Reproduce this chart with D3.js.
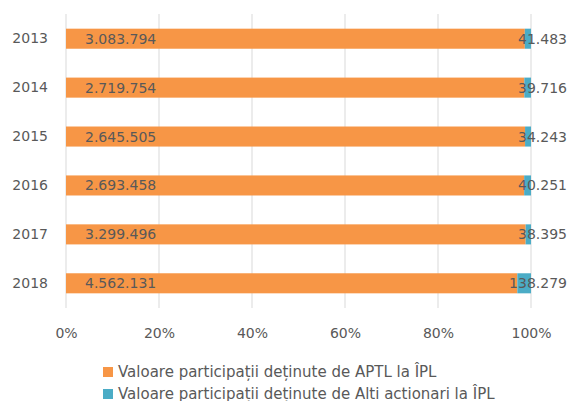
<!DOCTYPE html>
<html>
<head>
<meta charset="utf-8">
<script src="https://cdn.jsdelivr.net/npm/d3@7"></script>
<style>
  body { margin: 0; background: #fff; }
  text { font-family: "DejaVu Sans", sans-serif; fill: #595959; }
</style>
</head>
<body>
<div id="chart"></div>
<script>
var years = ["2013", "2014", "2015", "2016", "2017", "2018"];
var aptl = [3083794, 2719754, 2645505, 2693458, 3299496, 4562131];
var altii = [41483, 39716, 34243, 40251, 38395, 138279];
var xTicks = [0, 0.2, 0.4, 0.6, 0.8, 1];
var seriesNames = ["Valoare participații deținute de APTL la ÎPL",
                   "Valoare participații deținute de Alti actionari la ÎPL"];
var colors = ["#F79646", "#4BACC6"];

var w = 571, h = 401;
var plotLeft = 66, plotRight = 531, plotTop = 14, plotBottom = 308;

var fmt = function (v) {
    return d3.format(",")(v).replace(/,/g, ".");
};

var svg = d3.select("#chart").append("svg")
    .attr("width", w)
    .attr("height", h);

var x = d3.scaleLinear().domain([0, 1]).range([plotLeft, plotRight]);
var y = d3.scaleBand().domain(years).range([plotTop, plotBottom]).paddingInner(0.59).paddingOuter(0.3);

// gridlines
svg.selectAll("line.grid")
    .data(xTicks)
    .enter()
    .append("line")
    .attr("class", "grid")
    .attr("x1", function (d) { return x(d); })
    .attr("x2", function (d) { return x(d); })
    .attr("y1", plotTop)
    .attr("y2", plotBottom)
    .attr("stroke", "#d9d9d9")
    .attr("stroke-width", 1);

// x axis labels
var xAxis = d3.axisBottom(x).tickValues(xTicks).tickFormat(d3.format(".0%")).tickSize(0).tickPadding(0);
var gx = svg.append("g").attr("transform", "translate(0," + 328 + ")").call(xAxis);
gx.select(".domain").remove();
gx.selectAll("text").attr("font-size", 14).attr("dy", "0.71em");

// y axis labels
var yAxis = d3.axisLeft(y).tickSize(0).tickPadding(18);
var gy = svg.append("g").attr("transform", "translate(" + plotLeft + ",0)").call(yAxis);
gy.select(".domain").remove();
gy.selectAll("text").attr("font-size", 14);

var rows = years.map(function (yr, i) {
    var total = aptl[i] + altii[i];
    return { year: yr, a: aptl[i], b: altii[i], pa: aptl[i] / total };
});

// APTL bars
svg.selectAll("rect.a")
    .data(rows)
    .enter()
    .append("rect")
    .attr("class", "a")
    .attr("x", x(0))
    .attr("y", function (d) { return y(d.year); })
    .attr("width", function (d) { return x(d.pa) - x(0); })
    .attr("height", y.bandwidth())
    .attr("fill", colors[0]);

// others bars
svg.selectAll("rect.b")
    .data(rows)
    .enter()
    .append("rect")
    .attr("class", "b")
    .attr("x", function (d) { return x(d.pa); })
    .attr("y", function (d) { return y(d.year); })
    .attr("width", function (d) { return x(1) - x(d.pa); })
    .attr("height", y.bandwidth())
    .attr("fill", colors[1]);

// value labels
svg.selectAll("text.la")
    .data(rows)
    .enter()
    .append("text")
    .attr("class", "la")
    .attr("x", x(0) + 19)
    .attr("y", function (d) { return y(d.year) + y.bandwidth() / 2; })
    .attr("dy", "0.36em")
    .attr("font-size", 14)
    .text(function (d) { return fmt(d.a); });

svg.selectAll("text.lb")
    .data(rows)
    .enter()
    .append("text")
    .attr("class", "lb")
    .attr("x", x(1) + 36)
    .attr("y", function (d) { return y(d.year) + y.bandwidth() / 2; })
    .attr("dy", "0.36em")
    .attr("text-anchor", "end")
    .attr("font-size", 14)
    .text(function (d) { return fmt(d.b); });

// legend
var legend = svg.selectAll("g.legend")
    .data(seriesNames)
    .enter()
    .append("g")
    .attr("class", "legend")
    .attr("transform", function (d, i) { return "translate(103," + (367 + i * 22) + ")"; });

legend.append("rect")
    .attr("width", 10)
    .attr("height", 10)
    .attr("fill", function (d, i) { return colors[i]; });

legend.append("text")
    .attr("x", 15)
    .attr("y", 5)
    .attr("dy", "0.36em")
    .attr("font-size", 15)
    .text(function (d) { return d; });
</script>
</body>
</html>
